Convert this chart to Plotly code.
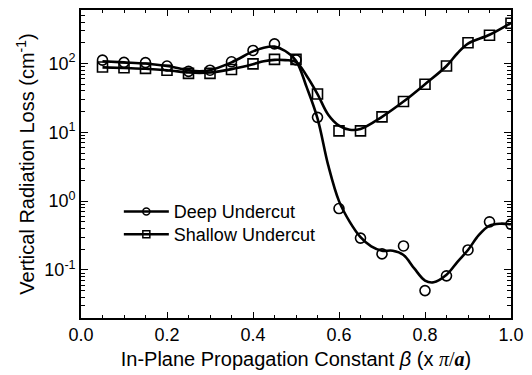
import numpy as np
import plotly.graph_objects as go

# measured data points
beta = [0.05, 0.10, 0.15, 0.20, 0.25, 0.30, 0.35, 0.40, 0.45, 0.50,
        0.55, 0.60, 0.65, 0.70, 0.75, 0.80, 0.85, 0.90, 0.95, 1.00]
deep_pts = [112, 104, 103, 92, 77, 80, 106, 155, 193, 113,
            16.5, 0.78, 0.29, 0.171, 0.223, 0.050, 0.082, 0.195, 0.50, 0.46]
shallow_pts = [89, 87, 85, 80, 72, 72, 82, 99, 115, 115,
               36, 10.5, 10.5, 16.8, 28, 50, 92, 200, 258, 385]

# fitted curves
deep_fit_x = [0.05, 0.10, 0.15, 0.20, 0.25, 0.275, 0.30, 0.35, 0.40, 0.425, 0.45,
              0.475, 0.50, 0.525, 0.55, 0.575, 0.60, 0.625, 0.65, 0.675, 0.70,
              0.725, 0.75, 0.775, 0.80, 0.82, 0.85, 0.875, 0.90, 0.925, 0.95,
              0.975, 1.00]
deep_fit_y = [108, 104, 100, 92, 80, 77, 80, 104, 150, 170, 176,
              152, 110, 45, 16, 3.3, 1.0, 0.5, 0.30, 0.22, 0.19,
              0.19, 0.165, 0.105, 0.070, 0.066, 0.085, 0.13, 0.195, 0.32, 0.44,
              0.47, 0.46]
shallow_fit_x = [0.05, 0.10, 0.15, 0.20, 0.25, 0.275, 0.30, 0.35, 0.40, 0.425,
                 0.45, 0.475, 0.50, 0.525, 0.55, 0.575, 0.60, 0.625, 0.65, 0.70,
                 0.75, 0.80, 0.85, 0.875, 0.90, 0.95, 1.00]
shallow_fit_y = [88, 86, 84, 80, 74, 73, 74, 83, 98, 108,
                 113, 112, 106, 66, 36, 18, 12.5, 10.9, 11.2, 16.8,
                 28, 50, 92, 140, 195, 262, 390]

ytick_vals = [0.1, 1, 10, 100]
ytick_text = ["10<sup>-1</sup>", "10<sup>0</sup>", "10<sup>1</sup>", "10<sup>2</sup>"]
yminor_vals = [m * 10.0 ** e for e in range(-2, 3) for m in range(2, 10)]

FONT = "Liberation Sans, Arial, sans-serif"

fig = go.Figure()
fig.add_trace(go.Scatter(x=deep_fit_x, y=deep_fit_y, mode="lines",
                         line=dict(color="black", width=2.6, shape="spline", smoothing=1.0),
                         showlegend=False, hoverinfo="skip"))
fig.add_trace(go.Scatter(x=shallow_fit_x, y=shallow_fit_y, mode="lines",
                         line=dict(color="black", width=2.6, shape="spline", smoothing=1.0),
                         showlegend=False, hoverinfo="skip"))
fig.add_trace(go.Scatter(x=beta, y=deep_pts, mode="markers",
                         marker=dict(symbol="circle-open", size=10, color="black",
                                     line=dict(width=1.6, color="black")),
                         showlegend=False))
fig.add_trace(go.Scatter(x=beta, y=shallow_pts, mode="markers",
                         marker=dict(symbol="square-open", size=10, color="black",
                                     line=dict(width=1.6, color="black")),
                         showlegend=False))
# legend entries
fig.add_trace(go.Scatter(x=[None], y=[None], mode="lines+markers", name="Deep Undercut",
                         line=dict(color="black", width=2.6),
                         marker=dict(symbol="circle-open", size=7, color="black",
                                     line=dict(width=1.5, color="black")),
                         legend="legend"))
fig.add_trace(go.Scatter(x=[None], y=[None], mode="lines+markers", name="Shallow Undercut",
                         line=dict(color="black", width=2.6),
                         marker=dict(symbol="square-open", size=7, color="black",
                                     line=dict(width=1.5, color="black")),
                         legend="legend2"))

legend_common = dict(xanchor="left", yanchor="middle", bgcolor="rgba(0,0,0,0)",
                     font=dict(size=18, family=FONT), itemwidth=45)

fig.update_layout(
    width=532, height=375,
    margin=dict(l=81, r=18, t=8, b=57),
    paper_bgcolor="white", plot_bgcolor="white",
    font=dict(family=FONT, size=18, color="black"),
    legend=dict(x=0.088, y=0.345, **legend_common),
    legend2=dict(x=0.088, y=0.271, **legend_common),
    xaxis=dict(
        range=[0, 1], tick0=0, dtick=0.2, tickformat=".1f",
        ticks="inside", ticklen=6, tickwidth=1.3, tickcolor="black",
        minor=dict(ticks="inside", dtick=0.05, ticklen=3.5, tickwidth=1.3, tickcolor="black"),
        showline=True, linewidth=1.6, linecolor="black", mirror="allticks",
        showgrid=False, zeroline=False,
        title=dict(text="In-Plane Propagation Constant <i>β</i> (x <span style=\"font-family:'Liberation Serif'\"><i>π</i>/<b><i>a</i></b></span>)",
                   font=dict(size=20, family=FONT), standoff=8),
        tickfont=dict(size=18, family=FONT),
    ),
    yaxis=dict(
        type="log", range=[np.log10(0.02), np.log10(600)],
        tickmode="array", tickvals=ytick_vals, ticktext=ytick_text,
        ticks="inside", ticklen=7, tickwidth=1.3, tickcolor="black",
        minor=dict(ticks="inside", tickmode="array", tickvals=yminor_vals,
                   ticklen=4, tickwidth=1.1, tickcolor="black"),
        showline=True, linewidth=1.6, linecolor="black", mirror="allticks",
        showgrid=False, zeroline=False,
        title=dict(text="Vertical Radiation Loss (cm<sup>-1</sup>)",
                   font=dict(size=20, family=FONT), standoff=4),
        tickfont=dict(size=18, family=FONT),
    ),
)

fig.write_html("out.html")
